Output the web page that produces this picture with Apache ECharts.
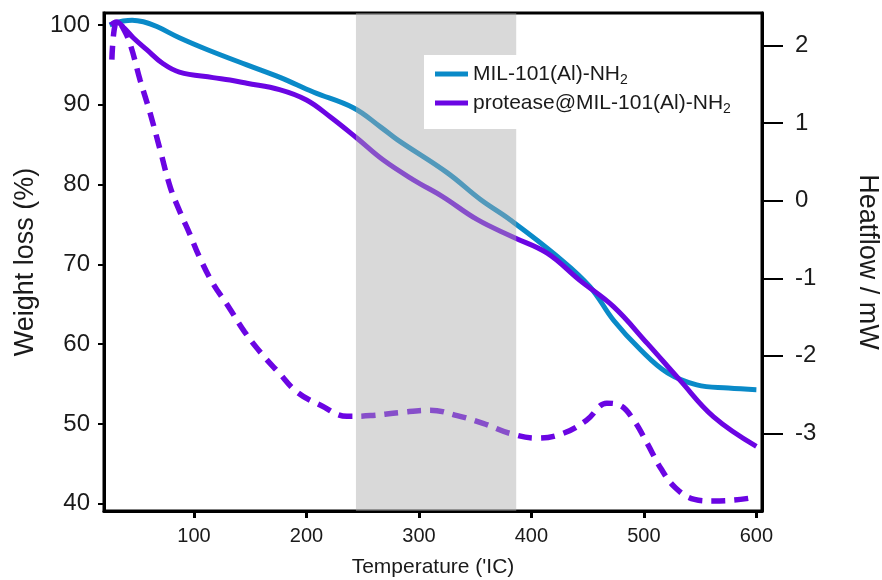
<!DOCTYPE html>
<html><head><meta charset="utf-8">
<script src="https://cdn.jsdelivr.net/npm/echarts@6/dist/echarts.min.js"></script>
<style>html,body{margin:0;padding:0;background:#fff}#c{width:882px;height:580px}</style>
</head><body><div id="c"></div>
<script>
// ---- data ----
const tempMIL   = [25, 31, 37, 45, 55, 67, 87, 112, 147, 177, 206, 242, 266, 281, 325, 355, 381, 423, 452, 473, 497, 521, 547, 575, 600];
const weightMIL = [100.0, 100.3, 100.5, 100.6, 100.4, 99.8, 98.4, 96.9, 95.0, 93.4, 91.6, 89.6, 87.2, 85.6, 81.5, 78.1, 75.6, 71.0, 67.2, 63.0, 59.3, 56.4, 54.9, 54.5, 54.3];

const tempProt   = [26, 31, 38, 46, 58, 72, 87, 117, 132, 147, 176, 200, 221, 245, 268, 295, 321, 352, 384, 414, 443, 473, 503, 532, 562, 600];
const weightProt = [100.0, 100.4, 99.6, 98.4, 96.9, 95.2, 94.1, 93.4, 93.1, 92.7, 91.9, 90.6, 88.5, 85.8, 83.1, 80.6, 78.5, 75.6, 73.4, 71.4, 68.0, 64.7, 60.1, 55.5, 50.9, 47.2];

const tempHeat = [27, 29, 32, 36, 43, 52, 61, 70, 79, 88, 96, 105, 117, 130, 145, 160, 175, 192, 213, 236, 257, 283, 310, 334, 357, 381, 405, 428, 449, 467, 479, 491, 503, 515, 528, 545, 560, 580, 600];
const heatProt = [1.82, 2.2, 2.32, 2.25, 2.03, 1.56, 1.13, 0.65, 0.17, -0.16, -0.42, -0.73, -1.07, -1.35, -1.69, -1.97, -2.21, -2.47, -2.64, -2.78, -2.77, -2.73, -2.70, -2.77, -2.87, -3.0, -3.06, -3.0, -2.83, -2.61, -2.64, -2.83, -3.13, -3.45, -3.70, -3.85, -3.87, -3.86, -3.82];

const xTicks     = [100, 200, 300, 400, 500, 600];
const leftTicks  = [40, 50, 60, 70, 80, 90, 100];
const rightTicks = [-3, -2, -1, 0, 1, 2];
const bandRange  = [244, 386.5];

const nameMIL  = 'MIL-101(Al)-NH2';
const nameProt = 'protease@MIL-101(Al)-NH2';

// ---- chart ----
const FONT = '"Liberation Sans", Arial, sans-serif';
const TXT = '#1a1a1a';
const BLUE = '#0a8ac8';
const PURPLE = '#6b05e3';
const zip = (a, b) => a.map((v, i) => [v, b[i]]);

const chart = echarts.init(document.getElementById('c'), null, {renderer: 'canvas'});
const option = {
  animation: false,
  textStyle: {fontFamily: FONT},
  grid: {left: 104, right: 120, top: 13, bottom: 69, show: true, borderColor: '#000', borderWidth: 3,
         backgroundColor: 'transparent', containLabel: false, outerBoundsMode: 'none'},
  legend: {
    data: [nameMIL, nameProt],
    left: 424, top: 55, orient: 'vertical',
    backgroundColor: '#fff',
    padding: [7, 12, 13, 11],
    itemGap: 4,
    itemWidth: 33, itemHeight: 5,
    icon: 'rect',
    z: 20,
    formatter: n => n.replace(/NH2$/, 'NH{s|2}'),
    textStyle: {fontFamily: FONT, fontSize: 21, color: TXT, lineHeight: 24,
      rich: {s: {fontFamily: FONT, fontSize: 14, color: TXT, padding: [12, 0, 0, 0]}}}
  },
  xAxis: {
    type: 'value', min: 20, max: 605,
    name: "Temperature ('IC)", nameLocation: 'middle', nameGap: 46,
    nameTextStyle: {fontFamily: FONT, fontSize: 21, color: TXT},
    axisLine: {show: true, onZero: false, lineStyle: {color: '#000', width: 3}},
    axisTick: {show: true, customValues: xTicks, length: 7, lineStyle: {color: '#000', width: 3}},
    axisLabel: {customValues: xTicks, margin: 15, fontFamily: FONT, fontSize: 20, color: TXT},
    splitLine: {show: false}
  },
  yAxis: [{
    type: 'value', min: 39.1, max: 101.5, position: 'left',
    name: 'Weight loss (%)', nameLocation: 'middle', nameGap: 62,
    nameTextStyle: {fontFamily: FONT, fontSize: 27, color: TXT},
    axisLine: {show: true, onZero: false, lineStyle: {color: '#000', width: 3}},
    axisTick: {show: true, customValues: leftTicks, length: 6, lineStyle: {color: '#000', width: 2}},
    axisLabel: {customValues: leftTicks, margin: 14, fontFamily: FONT, fontSize: 24, color: TXT},
    splitLine: {show: false}
  }, {
    type: 'value', min: -4, max: 2.42, position: 'right',
    name: 'Heatflow / mW', nameLocation: 'middle', nameGap: 92, nameRotate: -90,
    nameTextStyle: {fontFamily: FONT, fontSize: 27, color: TXT},
    axisLine: {show: true, onZero: false, lineStyle: {color: '#000', width: 3}},
    axisTick: {show: true, customValues: rightTicks, length: 21, lineStyle: {color: '#000', width: 2}},
    axisLabel: {customValues: rightTicks, margin: 33, fontFamily: FONT, fontSize: 24, color: TXT},
    splitLine: {show: false}
  }],
  series: [
    {name: nameMIL, type: 'line', yAxisIndex: 0, data: zip(tempMIL, weightMIL), smooth: 0.4,
     showSymbol: false, itemStyle: {color: BLUE}, lineStyle: {color: BLUE, width: 5}, z: 3},
    {name: nameProt, type: 'line', yAxisIndex: 0, data: zip(tempProt, weightProt), smooth: 0.4,
     showSymbol: false, itemStyle: {color: PURPLE}, lineStyle: {color: PURPLE, width: 5}, z: 3},
    {name: 'Heatflow', type: 'line', yAxisIndex: 1, data: zip(tempHeat, heatProt), smooth: 0.4,
     showSymbol: false, itemStyle: {color: PURPLE}, lineStyle: {color: PURPLE, width: 5.5, type: [14, 9]}, z: 3},
    {name: 'band', type: 'custom', xAxisIndex: 0, yAxisIndex: 0, z: 10, silent: true,
     data: [bandRange],
     renderItem: (params, api) => {
       const x0 = api.coord([api.value(0), 60])[0];
       const x1 = api.coord([api.value(1), 60])[0];
       const cs = params.coordSys;
       return {type: 'rect', shape: {x: x0, y: cs.y, width: x1 - x0, height: cs.height},
               style: {fill: 'rgba(170,170,170,0.45)'}};
     }}
  ]
};
chart.setOption(option);
</script>
</body></html>
